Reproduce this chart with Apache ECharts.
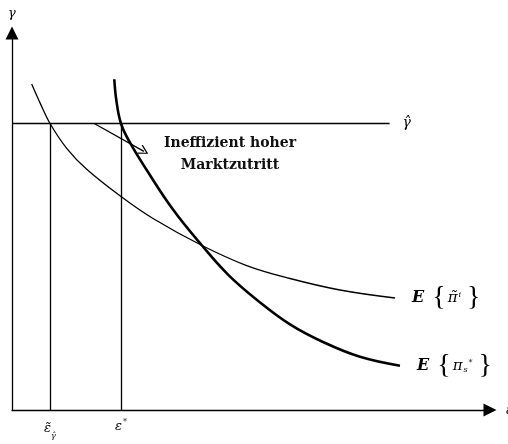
<!DOCTYPE html>
<html>
<head>
<meta charset="utf-8">
<script src="https://cdn.jsdelivr.net/npm/echarts@6/dist/echarts.min.js"></script>
<style>
  html, body { margin: 0; padding: 0; background: #fff; }
  #chart { width: 508px; height: 444px; }
</style>
</head>
<body>
<div id="chart"></div>
<script>
// Expected profit of an entrant vs. social value of entry, over entry ε (arbitrary units)
const privateX = [4.12, 5.96, 7.95, 11.44, 15.63, 22.8, 29.5, 39.75, 48.95, 58.16, 68.62, 80.13];
const privateY = [86.47, 81.2, 76.0, 69.42, 63.85, 56.63, 50.8, 43.63, 38.38, 34.88, 31.83, 29.71];
const socialX = [21.4, 21.82, 22.8, 24.69, 28.18, 33.68, 39.75, 45.19, 51.26, 58.16, 65.06, 72.8, 81.17];
const socialY = [87.72, 82.23, 76.0, 70.9, 63.66, 53.18, 43.63, 35.92, 29.18, 22.71, 18.04, 14.11, 11.75];

// threshold γ̂ and the two entry levels
const gammaHat = 76;
const gammaHatEnd = 79;
const epsTilde = 7.95;
const epsStar = 22.8;

const xTickValues = [epsTilde, epsStar];
const xTickLabels = ['{e|ε̃}{sub|γ̂}', '{e|ε}{sup|*}'];

const annotationText = 'Ineffizient hoher\nMarktzutritt';
const annotationAt = [45.6, 67.9];
const arrowFrom = [17.2, 76];
const arrowTo = [27.6, 68.6];

const serif = 'DejaVu Serif';
const mathFont = 'DejaVu Serif';

function pairs(xs, ys) { return xs.map((x, i) => [x, ys[i]]); }

const chart = echarts.init(document.getElementById('chart'), null, { renderer: 'canvas' });

// plain text in the end labels (the braces) uses the base style
const endLabelBase = { show: true, distance: 17, color: '#000', fontFamily: 'Liberation Serif', fontSize: 28 };
const mathRich = {
  E: { fontFamily: serif, fontWeight: 'bold', fontStyle: 'italic', fontSize: 16, verticalAlign: 'middle', padding: [0, 8, 0, 0] },
  pi: { fontFamily: mathFont, fontStyle: 'italic', fontSize: 15, verticalAlign: 'middle', padding: [0, 0, 0, 2] },
  sup: { fontFamily: mathFont, fontStyle: 'italic', fontSize: 8, verticalAlign: 'top', padding: [7, 6, 0, 1] },
  sub: { fontFamily: mathFont, fontStyle: 'italic', fontSize: 8, verticalAlign: 'bottom', padding: [0, 0, 6, 1] }
};

chart.setOption({
  animation: false,
  backgroundColor: '#fff',
  grid: { left: 12, right: 18, top: 33, bottom: 34, containLabel: false, outerBoundsMode: 'none' },
  xAxis: {
    type: 'value', min: 0, max: 100,
    name: 'ε', nameLocation: 'end', nameGap: 16,
    nameTextStyle: { fontFamily: mathFont, fontStyle: 'italic', fontSize: 14, color: '#000' },
    axisLine: { show: true, symbol: ['none', 'triangle'], symbolSize: [13, 13], lineStyle: { color: '#000', width: 1.3 } },
    axisTick: { show: false },
    splitLine: { show: false },
    axisLabel: {
      show: true, customValues: xTickValues, margin: 8, color: '#000',
      formatter: (v) => xTickLabels[xTickValues.indexOf(v)] || '',
      rich: {
        e: { fontFamily: mathFont, fontStyle: 'italic', fontSize: 13, verticalAlign: 'middle' },
        sub: { fontFamily: mathFont, fontStyle: 'italic', fontSize: 8, verticalAlign: 'bottom', padding: [14, 0, 0, 0] },
        sup: { fontFamily: mathFont, fontSize: 8, verticalAlign: 'top', padding: [0, 0, 10, 1] }
      }
    }
  },
  yAxis: {
    type: 'value', min: 0, max: 100,
    name: 'γ', nameLocation: 'end', nameGap: 13,
    nameTextStyle: { fontFamily: mathFont, fontStyle: 'italic', fontSize: 13, color: '#000', align: 'center' },
    axisLine: { show: true, symbol: ['none', 'triangle'], symbolSize: [13, 13], lineStyle: { color: '#000', width: 1.3 } },
    axisTick: { show: false },
    splitLine: { show: false },
    axisLabel: { show: false }
  },
  series: [
    {
      name: 'private',
      type: 'line',
      data: pairs(privateX, privateY),
      smooth: 0.4,
      symbol: 'none', clip: false,
      lineStyle: { color: '#000', width: 1.3 },
      endLabel: Object.assign({}, endLabelBase, {
        formatter: '{E|E}{{pi|π̃}{sup|i}}',
        rich: mathRich
      }),
      markLine: {
        silent: true, symbol: ['none', 'none'],
        lineStyle: { color: '#000', width: 1.3, type: 'solid' },
        label: { show: false },
        data: [
          [{ coord: [0, gammaHat] },
           { coord: [gammaHatEnd, gammaHat],
             label: { show: true, position: 'end', distance: 13, formatter: 'γ̂',
                      fontFamily: mathFont, fontStyle: 'italic', fontSize: 14, color: '#000' } }],
          [{ coord: [epsTilde, 0] }, { coord: [epsTilde, gammaHat] }],
          [{ coord: [epsStar, 0] }, { coord: [epsStar, gammaHat] }],
          [{ coord: arrowFrom, symbol: 'none' },
           { coord: arrowTo, symbol: 'path://M5,0 L10,9 L9.1,10 L5,2.4 L0.9,10 L0,9 Z', symbolSize: [10, 10] }]
        ]
      },
      markPoint: {
        silent: true,
        symbol: 'circle', symbolSize: 1,
        itemStyle: { color: 'rgba(0,0,0,0)' },
        data: [{
          coord: annotationAt,
          label: {
            show: true, position: 'inside', formatter: annotationText,
            fontFamily: serif, fontWeight: 'bold', fontSize: 14, lineHeight: 22,
            color: '#111', align: 'center'
          }
        }]
      }
    },
    {
      name: 'social',
      type: 'line',
      data: pairs(socialX, socialY),
      smooth: 0.4,
      symbol: 'none', clip: false,
      lineStyle: { color: '#000', width: 2.6 },
      endLabel: Object.assign({}, endLabelBase, {
        formatter: '{E|E}{{pi|π}{sub|s}{sup|*}}',
        rich: mathRich
      })
    }
  ]
});
</script>
</body>
</html>
